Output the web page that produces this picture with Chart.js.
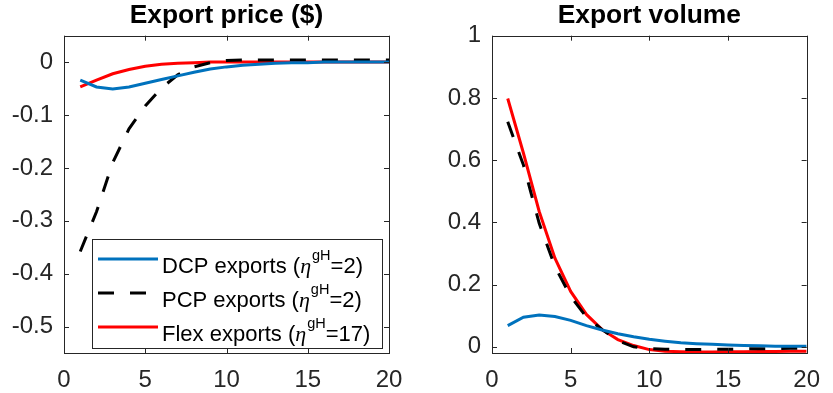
<!DOCTYPE html>
<html>
<head>
<meta charset="utf-8">
<title>Export price and volume</title>
<script src="https://cdn.jsdelivr.net/npm/chart.js@4.4.0/dist/chart.umd.min.js"></script>
<style>
  body { margin: 0; background: #fff; }
  #wrap { position: relative; width: 833px; height: 393px; }
  canvas { position: absolute; top: 0; }
</style>
</head>
<body>
<div id="wrap">
  <canvas id="priceChart" width="416" height="393" style="left:0;width:416px;height:393px"></canvas>
  <canvas id="volumeChart" width="417" height="393" style="left:416px;width:417px;height:393px"></canvas>
</div>
<script>
// horizon (quarters after the shock)
var periods = [1, 2, 3, 4, 5, 6, 7, 8, 9, 10, 11, 12, 13, 14, 15, 16, 17, 18, 19, 20];

// export price responses
var priceDCP  = [-0.034, -0.047, -0.051, -0.047, -0.040, -0.033, -0.026, -0.019, -0.013, -0.009,
                 -0.006, -0.004, -0.002, -0.001, -0.001, 0, 0, 0, 0, 0];
var pricePCP  = [-0.358, -0.283, -0.190, -0.126, -0.083, -0.049, -0.024, -0.009, -0.001, 0.003,
                 0.004, 0.004, 0.004, 0.004, 0.004, 0.004, 0.004, 0.004, 0.004, 0.004];
var priceFlex = [-0.047, -0.034, -0.022, -0.014, -0.008, -0.004, -0.002, -0.001, 0, 0,
                 0, 0, 0, 0, 0, 0, 0, 0, 0, 0];

// export volume responses
var volumeDCP  = [0.068, 0.095, 0.102, 0.097, 0.085, 0.068, 0.054, 0.042, 0.032, 0.024,
                  0.018, 0.013, 0.010, 0.008, 0.006, 0.004, 0.003, 0.002, 0.002, 0.002];
var volumePCP  = [0.723, 0.584, 0.397, 0.258, 0.162, 0.096, 0.055, 0.020, 0.000, -0.006,
                  -0.008, -0.009, -0.009, -0.008, -0.008, -0.007, -0.006, -0.006, -0.005, -0.005];
var volumeFlex = [0.798, 0.622, 0.435, 0.285, 0.178, 0.104, 0.055, 0.023, 0.004, -0.009,
                  -0.014, -0.016, -0.017, -0.017, -0.016, -0.016, -0.015, -0.015, -0.014, -0.014];

var seriesNames = ['DCP exports', 'PCP exports', 'Flex exports'];
var etaValues = [2, 2, 17];

var xTicks = [0, 5, 10, 15, 20];
var priceTicks = [-0.5, -0.4, -0.3, -0.2, -0.1, 0];
var volumeTicks = [0, 0.2, 0.4, 0.6, 0.8, 1];

var FONT = '"Liberation Sans", Arial, Helvetica, sans-serif';
var AXIS_COLOR = '#262626';
var styles = [
  { borderColor: '#0072BD', borderDash: [] },
  { borderColor: '#000000', borderDash: [16, 16] },
  { borderColor: '#FF0000', borderDash: [] }
];

function points(ys) {
  return periods.map(function (p, i) { return { x: p, y: ys[i] }; });
}

function makeDatasets(series) {
  return series.map(function (ys, i) {
    return {
      label: seriesNames[i] + ' (\u03B7gH=' + etaValues[i] + ')',
      data: points(ys),
      borderColor: styles[i].borderColor,
      borderDash: styles[i].borderDash,
      borderWidth: 3,
      pointRadius: 0,
      tension: 0,
      fill: false
    };
  });
}

function fixedTicks(values) {
  return function (scale) {
    scale.ticks = values.map(function (v) { return { value: v }; });
  };
}

// box around the axes with inward tick marks on all four sides
var boxFrame = {
  id: 'boxFrame',
  afterDatasetsDraw: function (chart) {
    var a = chart.chartArea, ctx = chart.ctx;
    var xs = chart.scales.x, ys = chart.scales.y;
    var len = 5;
    ctx.save();
    ctx.strokeStyle = AXIS_COLOR;
    ctx.lineWidth = 1;
    ctx.setLineDash([]);
    ctx.beginPath();
    xs.ticks.forEach(function (t) {
      var px = Math.round(xs.getPixelForValue(t.value)) + 0.5;
      ctx.moveTo(px, a.bottom); ctx.lineTo(px, a.bottom - len);
      ctx.moveTo(px, a.top); ctx.lineTo(px, a.top + len);
    });
    ys.ticks.forEach(function (t) {
      var py = Math.round(ys.getPixelForValue(t.value)) + 0.5;
      ctx.moveTo(a.left, py); ctx.lineTo(a.left + len, py);
      ctx.moveTo(a.right, py); ctx.lineTo(a.right - len, py);
    });
    ctx.stroke();
    ctx.strokeRect(Math.round(a.left) + 0.5, Math.round(a.top) + 0.5,
                   Math.round(a.right - a.left), Math.round(a.bottom - a.top));
    ctx.restore();
  }
};

// legend with superscripted eta labels, bottom right inside the axes
var etaLegend = {
  id: 'etaLegend',
  afterDraw: function (chart, args, opts) {
    if (!opts || !opts.show) return;
    var a = chart.chartArea, ctx = chart.ctx;
    var w = 290, h = 109;
    var x0 = Math.round(a.right - 7 - w), y0 = Math.round(a.bottom - 5 - h);
    ctx.save();
    ctx.fillStyle = '#fff';
    ctx.fillRect(x0, y0, w, h);
    ctx.strokeStyle = AXIS_COLOR;
    ctx.lineWidth = 1;
    ctx.strokeRect(x0 + 0.5, y0 + 0.5, w, h);
    chart.data.datasets.forEach(function (ds, i) {
      var ly = y0 + 20 + i * 34;
      ctx.strokeStyle = ds.borderColor;
      ctx.lineWidth = 3;
      ctx.setLineDash(ds.borderDash || []);
      ctx.beginPath();
      ctx.moveTo(x0 + 6, ly);
      ctx.lineTo(x0 + 66, ly);
      ctx.stroke();
      ctx.setLineDash([]);

      var tx = x0 + 70, base = ly + 14;
      ctx.fillStyle = '#000';
      ctx.textBaseline = 'alphabetic';
      ctx.textAlign = 'left';
      ctx.font = '22px ' + FONT;
      var head = seriesNames[i] + ' (';
      ctx.fillText(head, tx, base);
      tx += ctx.measureText(head).width;
      ctx.font = 'italic 22px "Liberation Serif", serif';
      ctx.fillText('\u03B7', tx, base);
      tx += ctx.measureText('\u03B7').width + 1;
      ctx.font = '14.5px ' + FONT;
      ctx.fillText('gH', tx, base - 13);
      tx += ctx.measureText('gH').width;
      ctx.font = '22px ' + FONT;
      ctx.fillText('=' + etaValues[i] + ')', tx, base);
    });
    ctx.restore();
  }
};

function makeChart(id, title, series, yMin, yMax, yTicks, yWidth, padRight, showLegend) {
  return new Chart(document.getElementById(id), {
    type: 'line',
    data: { datasets: makeDatasets(series) },
    options: {
      responsive: false,
      animation: false,
      layout: { padding: { left: 0, right: padRight, top: 0, bottom: 0 } },
      scales: {
        x: {
          type: 'linear',
          min: 0,
          max: 20,
          afterBuildTicks: fixedTicks(xTicks),
          afterFit: function (s) { s.height = 40; },
          grid: { display: false, drawTicks: false },
          border: { display: false },
          ticks: {
            color: AXIS_COLOR,
            padding: 13,
            maxRotation: 0,
            font: { family: FONT, size: 24 },
            callback: function (v) { return String(v); }
          }
        },
        y: {
          min: yMin,
          max: yMax,
          afterBuildTicks: fixedTicks(yTicks),
          afterFit: function (s) { s.width = yWidth; },
          grid: { display: false, drawTicks: false },
          border: { display: false },
          ticks: {
            color: AXIS_COLOR,
            padding: 11,
            font: { family: FONT, size: 24 },
            callback: function (v) { return String(v); }
          }
        }
      },
      plugins: {
        legend: { display: false },
        tooltip: { enabled: false },
        title: {
          display: true,
          text: title,
          fullSize: false,
          color: '#000',
          font: { family: FONT, size: 26.4, weight: 'bold' },
          padding: { top: 0, bottom: 4 }
        },
        etaLegend: { show: showLegend }
      }
    },
    plugins: [boxFrame, etaLegend]
  });
}

makeChart('priceChart', 'Export price ($)', [priceDCP, pricePCP, priceFlex],
          -0.55, 0.05, priceTicks, 64, 27, true);
makeChart('volumeChart', 'Export volume', [volumeDCP, volumePCP, volumeFlex],
          -0.02, 1, volumeTicks, 76, 14, false);
</script>
</body>
</html>
